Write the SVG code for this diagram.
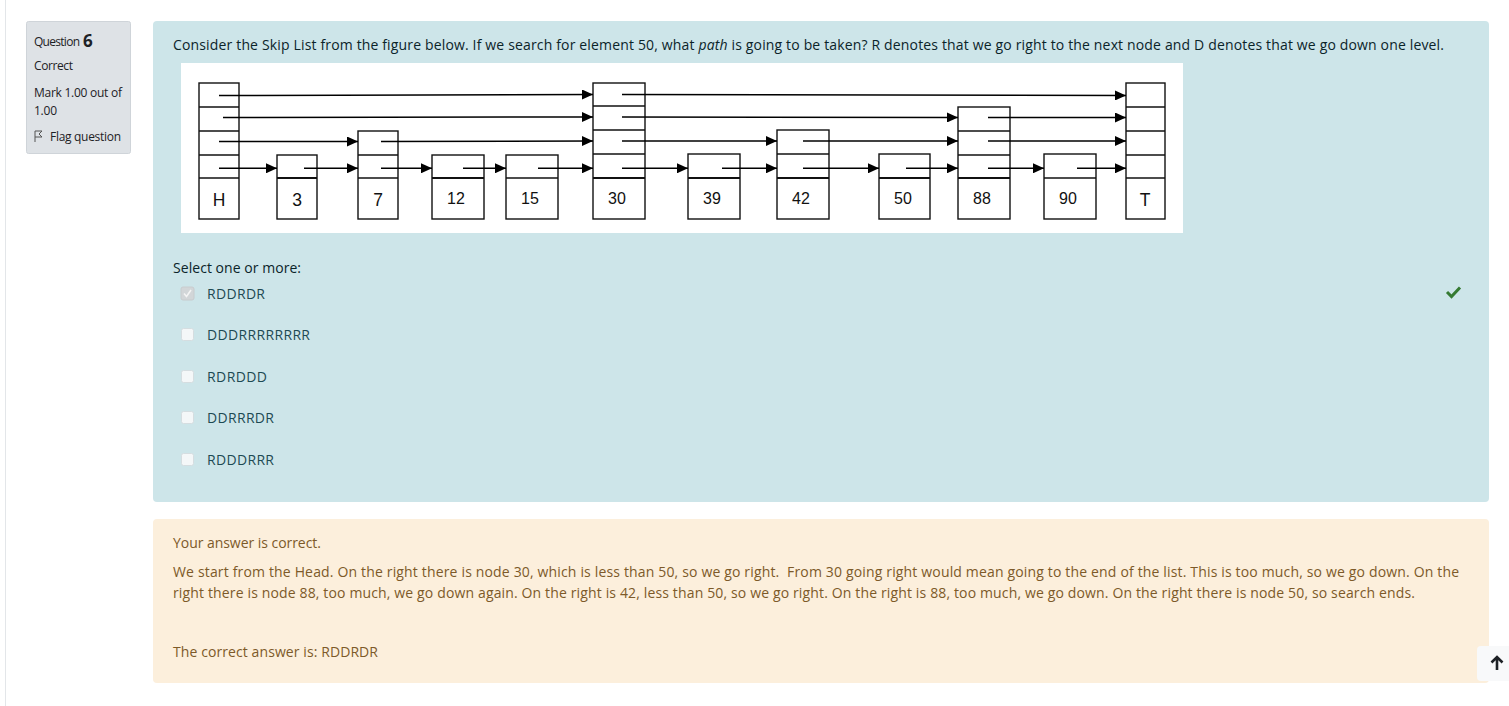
<svg xmlns="http://www.w3.org/2000/svg" width="1509" height="706" viewBox="0 0 1509 706">
<style>
.ui{font-family:"Open Sans","Liberation Sans",sans-serif;}
.q{font-size:14px;fill:#0b2429;}
.opt{font-size:14px;fill:#1d4a53;}
.fb{font-size:14px;fill:#7d5a29;}
.info{font-size:12px;fill:#1d2125;}
.box{fill:#fff;stroke:#111;stroke-width:1.4;}
.ln{stroke:#111;stroke-width:1.4;}
.thick{stroke:#111;stroke-width:2.2;}
.lbl{font-family:"Liberation Sans",Arial,sans-serif;font-size:16px;fill:#111;text-anchor:middle;}
.big{font-size:17.5px;}
.arr{stroke:#000;stroke-width:1.5;fill:none;marker-end:url(#ah);}
.cb{fill:#f4f7f8;stroke:#d5dde0;stroke-width:1;}
</style>
<defs>
<marker id="ah" markerUnits="userSpaceOnUse" markerWidth="12" markerHeight="10" refX="11" refY="5" orient="auto">
<path d="M0,0 L11,5 L0,10 z" fill="#000"/>
</marker>
</defs>
<rect x="0" y="0" width="1509" height="706" fill="#fff"/>
<line x1="5.5" y1="0" x2="5.5" y2="706" stroke="#e3e6e9" stroke-width="1"/>

<g id="info">
<rect x="26.5" y="21.5" width="104" height="132" rx="2" fill="#dee2e6" stroke="#cfd4d9"/>
<text class="ui info" x="34" y="46" font-size="11.5" textLength="46" fill="#3a3f44">Question</text>
<text class="ui" x="83" y="47" font-size="17" font-weight="bold" fill="#1d2125">6</text>
<text class="ui info" x="34" y="70" textLength="39">Correct</text>
<text class="ui info" x="34" y="97" textLength="88">Mark 1.00 out of</text>
<text class="ui info" x="34" y="115" textLength="23">1.00</text>
<path d="M35,142 L35,131 L42,131 L39,134 L42,137 L35,137" fill="none" stroke="#555" stroke-width="1"/>
<text class="ui info" x="50" y="141" textLength="71">Flag question</text>
</g>

<g id="formulation">
<rect x="153" y="21" width="1336" height="481" rx="4" fill="#cde5e9"/>
<text class="ui q" x="173" y="50" textLength="1271">Consider the Skip List from the figure below. If we search for element 50, what <tspan font-style="italic">path</tspan> is going to be taken? R denotes that we go right to the next node and D denotes that we go down one level.</text>
<rect x="181" y="63" width="1002" height="170" fill="#fff"/>
</g>

<g id="node-H">
<rect class="box" x="199" y="83" width="40" height="136"/>
<line class="ln" x1="199" y1="107" x2="239" y2="107"/>
<line class="ln" x1="199" y1="131" x2="239" y2="131"/>
<line class="ln" x1="199" y1="155" x2="239" y2="155"/>
<line class="ln" x1="199" y1="178" x2="239" y2="178"/>
<text class="lbl big" x="219" y="205.5">H</text>
</g>
<g id="node-3">
<rect class="box" x="277" y="155" width="40" height="64"/>
<line class="thick" x1="277" y1="178" x2="317" y2="178"/>
<text class="lbl big" x="297" y="205.5">3</text>
</g>
<g id="node-7">
<rect class="box" x="358" y="131" width="40" height="88"/>
<line class="ln" x1="358" y1="155" x2="398" y2="155"/>
<line class="ln" x1="358" y1="178" x2="398" y2="178"/>
<text class="lbl big" x="378" y="205.5">7</text>
</g>
<g id="node-12">
<rect class="box" x="432" y="155" width="52" height="64"/>
<line class="thick" x1="432" y1="178" x2="484" y2="178"/>
<text class="lbl" x="456" y="204">12</text>
</g>
<g id="node-15">
<rect class="box" x="506" y="155" width="52" height="64"/>
<line class="ln" x1="506" y1="178" x2="558" y2="178"/>
<text class="lbl" x="530" y="204">15</text>
</g>
<g id="node-30">
<rect class="box" x="593" y="83" width="52" height="136"/>
<line class="ln" x1="593" y1="106" x2="645" y2="106"/>
<line class="ln" x1="593" y1="130" x2="645" y2="130"/>
<line class="ln" x1="593" y1="154" x2="645" y2="154"/>
<line class="thick" x1="593" y1="178" x2="645" y2="178"/>
<text class="lbl" x="617" y="204">30</text>
</g>
<g id="node-39">
<rect class="box" x="688" y="154" width="52" height="65"/>
<line class="thick" x1="688" y1="178" x2="740" y2="178"/>
<text class="lbl" x="712" y="204">39</text>
</g>
<g id="node-42">
<rect class="box" x="777" y="130" width="52" height="89"/>
<line class="ln" x1="777" y1="154" x2="829" y2="154"/>
<line class="thick" x1="777" y1="178" x2="829" y2="178"/>
<text class="lbl" x="801" y="204">42</text>
</g>
<g id="node-50">
<rect class="box" x="879" y="154" width="51" height="65"/>
<line class="thick" x1="879" y1="178" x2="930" y2="178"/>
<text class="lbl" x="903" y="204">50</text>
</g>
<g id="node-88">
<rect class="box" x="958" y="107" width="52" height="112"/>
<line class="ln" x1="958" y1="131" x2="1010" y2="131"/>
<line class="ln" x1="958" y1="155" x2="1010" y2="155"/>
<line class="thick" x1="958" y1="178" x2="1010" y2="178"/>
<text class="lbl" x="982" y="204">88</text>
</g>
<g id="node-90">
<rect class="box" x="1044" y="154" width="52" height="65"/>
<line class="ln" x1="1044" y1="178" x2="1096" y2="178"/>
<text class="lbl" x="1068" y="204">90</text>
</g>
<g id="node-T">
<rect class="box" x="1126" y="83" width="39" height="136"/>
<line class="ln" x1="1126" y1="107" x2="1165" y2="107"/>
<line class="ln" x1="1126" y1="131" x2="1165" y2="131"/>
<line class="ln" x1="1126" y1="155" x2="1165" y2="155"/>
<line class="ln" x1="1126" y1="178" x2="1165" y2="178"/>
<text class="lbl big" x="1145" y="205.5">T</text>
</g>

<g id="connectors">
<line class="arr" x1="219" y1="95.5" x2="593" y2="94.5"/>
<line class="arr" x1="622" y1="94.5" x2="1126" y2="95.5"/>
<line class="arr" x1="223" y1="117.5" x2="593" y2="117"/>
<line class="arr" x1="622" y1="117" x2="958" y2="117.5"/>
<line class="arr" x1="988" y1="117.5" x2="1126" y2="117.5"/>
<line class="arr" x1="219" y1="141.5" x2="358" y2="141.5"/>
<line class="arr" x1="381" y1="141.5" x2="593" y2="141"/>
<line class="arr" x1="622" y1="141" x2="777" y2="141"/>
<line class="arr" x1="803" y1="141" x2="958" y2="141"/>
<line class="arr" x1="988" y1="141" x2="1126" y2="141"/>
<line class="arr" x1="219" y1="168.3" x2="277" y2="168.3"/>
<line class="arr" x1="304" y1="168.3" x2="358" y2="168.3"/>
<line class="arr" x1="381" y1="168.3" x2="432" y2="168.3"/>
<line class="arr" x1="463" y1="168.3" x2="506" y2="168.3"/>
<line class="arr" x1="538" y1="168.3" x2="593" y2="168.3"/>
<line class="arr" x1="622" y1="168.3" x2="688" y2="168.3"/>
<line class="arr" x1="722" y1="168.3" x2="777" y2="168.3"/>
<line class="arr" x1="803" y1="168.3" x2="879" y2="168.3"/>
<line class="arr" x1="906" y1="168.3" x2="958" y2="168.3"/>
<line class="arr" x1="988" y1="168.3" x2="1044" y2="168.3"/>
<line class="arr" x1="1077" y1="168.3" x2="1126" y2="168.3"/>
</g>

<g id="answers">
<text class="ui q" x="173" y="273" textLength="128">Select one or more:</text>
<rect x="181" y="287" width="13" height="13" rx="2" fill="#d2d6d8" stroke="#c8ccce"/>
<path d="M184,293.5 L186.5,296.5 L191,290" fill="none" stroke="#f4f4f4" stroke-width="1.6"/>
<text class="ui opt" x="207" y="299" textLength="58">RDDRDR</text>
<rect class="cb" x="181.5" y="328.5" width="12" height="12" rx="2"/>
<text class="ui opt" x="207" y="340" textLength="103">DDDRRRRRRRR</text>
<rect class="cb" x="181.5" y="370.5" width="12" height="12" rx="2"/>
<text class="ui opt" x="207" y="382" textLength="60">RDRDDD</text>
<rect class="cb" x="181.5" y="411.5" width="12" height="12" rx="2"/>
<text class="ui opt" x="207" y="423" textLength="67">DDRRRDR</text>
<rect class="cb" x="181.5" y="453.5" width="12" height="12" rx="2"/>
<text class="ui opt" x="207" y="465" textLength="67">RDDDRRR</text>
<path d="M1447,292 L1451.5,296.5 L1460,287.5" fill="none" stroke="#357a32" stroke-width="3"/>
</g>

<g id="feedback">
<rect x="153" y="519" width="1336" height="164" rx="4" fill="#fcefdc"/>
<text class="ui fb" x="173" y="548" textLength="148">Your answer is correct.</text>
<text class="ui fb" x="173" y="577" textLength="1286">We start from the Head. On the right there is node 30, which is less than 50, so we go right. &#160;From 30 going right would mean going to the end of the list. This is too much, so we go down. On the</text>
<text class="ui fb" x="173" y="598" textLength="1242">right there is node 88, too much, we go down again. On the right is 42, less than 50, so we go right. On the right is 88, too much, we go down. On the right there is node 50, so search ends.</text>
<text class="ui fb" x="173" y="657" textLength="205">The correct answer is: RDDRDR</text>
</g>

<g id="back-to-top">
<rect x="1477" y="646" width="40" height="35" rx="4" fill="#f8f9fa"/>
<path d="M1497,657 L1497,670 M1491.5,662.5 L1497,657 L1502.5,662.5" fill="none" stroke="#1d2125" stroke-width="2.6"/>
</g>
</svg>
